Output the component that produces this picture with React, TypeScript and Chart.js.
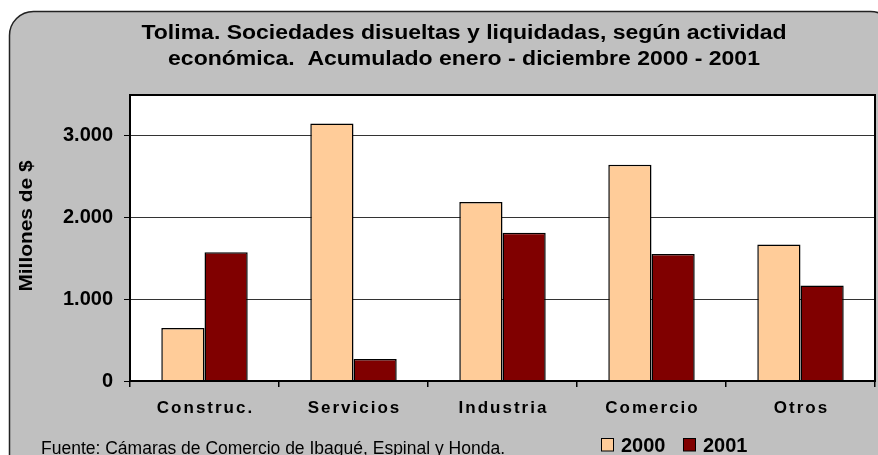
import React, { useEffect, useRef } from 'react';
import { Chart, registerables } from 'chart.js';

Chart.register(...registerables);

const categories = ['Construc.', 'Servicios', 'Industria', 'Comercio', 'Otros'];
const series2000 = [650, 3150, 2190, 2645, 1670];
const series2001 = [1575, 270, 1815, 1555, 1170];
const seriesLabels = ['2000', '2001'];
const seriesColors = ['#FFCC99', '#800000'];
const yTickValues = [0, 1000, 2000, 3000];
const yMax = 3500;
const titleLines = [
  'Tolima. Sociedades disueltas y liquidadas, según actividad',
  'económica.  Acumulado enero - diciembre 2000 - 2001',
];
const yAxisTitle = 'Millones de $';
const sourceNote = 'Fuente: Cámaras de Comercio de Ibagué, Espinal y Honda.';

const FONT = '"Liberation Sans", Arial, Helvetica, sans-serif';
const W = 878;
const H = 455;

const fmt = (v: number) => String(v).replace(/\B(?=(\d{3})+(?!\d))/g, '.');

const decor = {
  id: 'decor',
  beforeDraw(chart: any) {
    const { ctx, chartArea } = chart;
    ctx.save();
    ctx.fillStyle = '#ffffff';
    ctx.fillRect(0, 0, W, H);
    ctx.beginPath();
    ctx.roundRect(9.5, 11.5, 885, 470, 24);
    ctx.fillStyle = '#C0C0C0';
    ctx.fill();
    ctx.lineWidth = 1.5;
    ctx.strokeStyle = '#222';
    ctx.stroke();
    ctx.fillStyle = '#ffffff';
    ctx.fillRect(chartArea.left, chartArea.top, chartArea.right - chartArea.left, chartArea.bottom - chartArea.top);
    ctx.restore();
  },
  afterDraw(chart: any) {
    const { ctx, chartArea } = chart;
    ctx.save();
    // plot border
    ctx.strokeStyle = '#000';
    ctx.lineWidth = 2;
    ctx.strokeRect(chartArea.left, chartArea.top, chartArea.right - chartArea.left, chartArea.bottom - chartArea.top);

    // title (slightly wide glyphs like the original rendering)
    ctx.fillStyle = '#000';
    ctx.textAlign = 'center';
    ctx.textBaseline = 'alphabetic';
    ctx.font = `bold 20px ${FONT}`;
    [38.5, 65].forEach((yy, i) => {
      ctx.save();
      ctx.translate(464, yy);
      ctx.scale(1.15, 1);
      ctx.fillText(titleLines[i], 0, 0);
      ctx.restore();
    });

    // x labels with letter spacing
    const xs = chart.scales.x;
    ctx.font = `bold 17px ${FONT}`;
    (ctx as any).letterSpacing = '2px';
    categories.forEach((c, i) => {
      const px = xs.getPixelForValue(i);
      ctx.fillText(c, px + 1, 413);
    });
    (ctx as any).letterSpacing = '0px';

    // y axis title
    ctx.save();
    ctx.translate(27, 226);
    ctx.rotate(-Math.PI / 2);
    ctx.scale(1.1, 1);
    ctx.font = `bold 19px ${FONT}`;
    ctx.textAlign = 'center';
    ctx.textBaseline = 'middle';
    ctx.fillText(yAxisTitle, 0, 0);
    ctx.restore();

    // footer
    ctx.textAlign = 'left';
    ctx.font = `17.5px ${FONT}`;
    ctx.fillText(sourceNote, 41, 454);

    // legend
    ctx.font = `bold 20px ${FONT}`;
    let lx = 601;
    chart.data.datasets.forEach((ds: any) => {
      ctx.fillStyle = ds.backgroundColor;
      ctx.fillRect(lx, 438, 12.5, 13);
      ctx.strokeStyle = '#000';
      ctx.lineWidth = 1;
      ctx.strokeRect(lx + 0.5, 438.5, 12, 12.5);
      ctx.fillStyle = '#000';
      ctx.fillText(ds.label, lx + 20, 452);
      lx += 20 + ctx.measureText(ds.label).width + 17.5;
    });
    ctx.restore();
  },
};

export default function App() {
  const ref = useRef<HTMLCanvasElement>(null);
  useEffect(() => {
    document.body.style.margin = '0';
    const canvas = ref.current!;
    const chart = new Chart(canvas, {
      type: 'bar',
      data: {
        labels: categories,
        datasets: [
          {
            label: seriesLabels[0],
            data: series2000,
            backgroundColor: seriesColors[0],
            borderColor: '#000',
            borderWidth: 1.5,
            categoryPercentage: 0.58,
            barPercentage: 1,
          },
          {
            label: seriesLabels[1],
            data: series2001,
            backgroundColor: seriesColors[1],
            borderColor: '#000',
            borderWidth: 1.5,
            categoryPercentage: 0.58,
            barPercentage: 1,
          },
        ],
      },
      options: {
        responsive: false,
        maintainAspectRatio: false,
        animation: false,
        devicePixelRatio: 1,
        layout: { padding: { top: 95, left: 0, right: 3, bottom: 0 } },
        plugins: {
          legend: { display: false },
          title: { display: false },
          tooltip: { enabled: false },
        },
        scales: {
          x: {
            grid: {
              display: true,
              drawOnChartArea: false,
              offset: true,
              tickLength: 6,
              color: '#000',
              lineWidth: 1.5,
            },
            border: { display: true, color: '#000', width: 2 },
            ticks: { display: false },
            afterFit: (s: any) => {
              s.height = 74;
            },
          },
          y: {
            min: 0,
            max: yMax,
            afterBuildTicks: (s: any) => {
              s.ticks = yTickValues.map((v) => ({ value: v }));
            },
            ticks: {
              callback: (v: any) => fmt(Number(v)),
              font: { family: FONT, weight: 'bold', size: 20 },
              color: '#000',
              padding: 11,
            },
            grid: { color: '#333', lineWidth: 1, tickLength: 6, tickColor: '#000' },
            border: { display: true, color: '#000', width: 2 },
            afterFit: (s: any) => {
              s.width = 130;
            },
          },
        },
      },
      plugins: [decor],
    });
    return () => chart.destroy();
  }, []);
  return (
    <div style={{ position: 'fixed', left: 0, top: 0, width: W, height: H }}>
      <canvas ref={ref} width={W} height={H} style={{ display: 'block' }} />
    </div>
  );
}
